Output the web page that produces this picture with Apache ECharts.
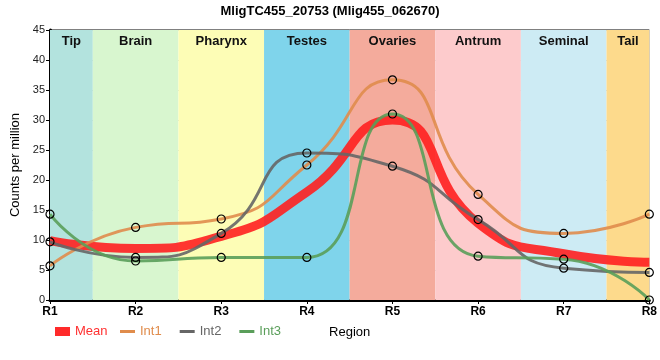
<!DOCTYPE html>
<html><head><meta charset="utf-8">
<script src="https://cdn.jsdelivr.net/npm/echarts@6/dist/echarts.min.js"></script>
<style>html,body{margin:0;padding:0;background:#fff}#c{width:660px;height:360px}</style>
</head><body><div id="c"></div>
<script>
var regions = ['R1','R2','R3','R4','R5','R6','R7','R8'];
var bandNames = ['Tip','Brain','Pharynx','Testes','Ovaries','Antrum','Seminal','Tail'];
var bandColors = ['#b3e3de','#d8f6cf','#fdfdb6','#7fd4eb','#f4ab9c','#fdcbcc','#cdebf4','#fdda8c'];
var meanVals = [9.9, 8.6, 10.6, 18.0, 30.0, 12.8, 7.7, 6.3];
var int1Vals = [5.7, 12.1, 13.5, 22.5, 36.7, 17.6, 11.1, 14.3];
var int2Vals = [9.7, 7.1, 11.1, 24.5, 22.3, 13.4, 5.3, 4.6];
var int3Vals = [14.3, 6.5, 7.1, 7.1, 31.0, 7.3, 6.8, 0.0];
var yTicks = [0,5,10,15,20,25,30,35,40,45];

function pts(v){ return v.map(function(y,i){ return [i,y]; }); }
var bands = bandNames.map(function(n,i){
  return [{name:n, xAxis: Math.max(0,i-0.5), itemStyle:{color:bandColors[i]}}, {xAxis: Math.min(7,i+0.5)}];
});
var mk = {color:'rgba(0,0,0,0)', borderColor:'#000', borderWidth:1.2};
var SM = 0.55;
var chart = echarts.init(document.getElementById('c'));
chart.setOption({
  animation:false,
  title:{text:'MligTC455_20753 (Mlig455_062670)', left:'center', top:0,
    textStyle:{fontSize:13, fontWeight:'bold', color:'#000', fontFamily:'Liberation Sans'}},
  grid:{left:50, right:10, top:30, bottom:60, show:true, borderColor:'#000', borderWidth:1, backgroundColor:'transparent'},
  legend:[{
    left:55, top:325, padding:0, itemWidth:15, itemHeight:9, itemGap:12,
    data:[{name:'Mean', icon:'rect', itemStyle:{color:'#ff2a2a', borderWidth:0}, textStyle:{color:'#ff3030'}}],
    textStyle:{fontSize:13, fontFamily:'Liberation Sans'}
  },{
    left:120, top:325, padding:0, itemWidth:15, itemHeight:3, itemGap:18,
    data:[
      {name:'Int1', icon:'rect', itemStyle:{color:'#e08c4c', borderWidth:0}, textStyle:{color:'#e08c4c'}},
      {name:'Int2', icon:'rect', itemStyle:{color:'#666666', borderWidth:0}, textStyle:{color:'#666666'}},
      {name:'Int3', icon:'rect', itemStyle:{color:'#5a9e5a', borderWidth:0}, textStyle:{color:'#5a9e5a'}}
    ],
    textStyle:{fontSize:13, fontFamily:'Liberation Sans'}
  }],
  xAxis:{type:'value', min:0, max:7, interval:1, name:'Region', nameLocation:'middle', nameGap:26,
    nameTextStyle:{fontSize:13, color:'#000', fontFamily:'Liberation Sans'},
    axisLine:{lineStyle:{color:'#000', width:3}},
    axisTick:{show:true, length:4, lineStyle:{color:'#000'}},
    axisLabel:{formatter:function(v){return regions[v];}, fontSize:12, fontWeight:'bold', color:'#000', margin:6, fontFamily:'Liberation Sans'},
    splitLine:{show:true, lineStyle:{color:'#c8c8c8', width:1}}},
  yAxis:{type:'value', min:0, max:45, interval:5, name:'Counts per million', nameLocation:'middle', nameGap:26,
    nameTextStyle:{fontSize:13, color:'#000', fontFamily:'Liberation Sans'},
    axisLine:{show:true, lineStyle:{color:'#000', width:3}},
    axisTick:{show:true, length:4, lineStyle:{color:'#000'}},
    axisLabel:{fontSize:11, color:'#222', margin:5, fontFamily:'Liberation Sans',
      formatter:function(v){return yTicks.indexOf(v)>=0? String(v):'';}},
    splitLine:{show:true, lineStyle:{color:'#c8c8c8', width:1}}},
  series:[
    {name:'Mean', type:'line', data:pts(meanVals), smooth:SM, showSymbol:false,
      lineStyle:{color:'#ff2020', width:9, opacity:0.9}, itemStyle:{color:'#ff2a2a'}, z:2,
      markArea:{silent:true, data:bands, label:{show:true, position:'insideTop', distance:5,
        fontSize:13, fontWeight:'bold', color:'#111', fontFamily:'Liberation Sans'}}},
    {name:'Int1', type:'line', data:pts(int1Vals), smooth:SM, symbol:'circle', symbolSize:8,
      lineStyle:{color:'#e08c4c', width:3, opacity:0.9}, itemStyle:mk, z:3},
    {name:'Int2', type:'line', data:pts(int2Vals), smooth:SM, symbol:'circle', symbolSize:8,
      lineStyle:{color:'#666666', width:3, opacity:0.9}, itemStyle:mk, z:3},
    {name:'Int3', type:'line', data:pts(int3Vals), smooth:SM, symbol:'circle', symbolSize:8,
      lineStyle:{color:'#5a9e5a', width:3, opacity:0.9}, itemStyle:mk, z:3}
  ]
});
</script></body></html>
